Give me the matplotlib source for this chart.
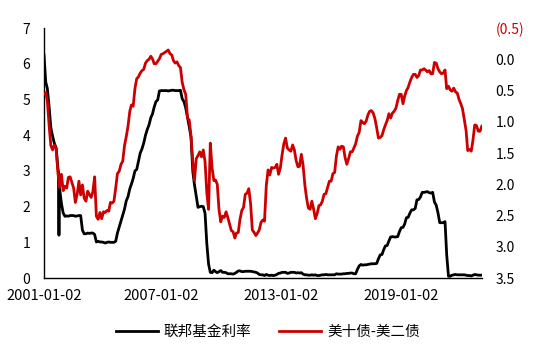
import matplotlib
matplotlib.use("Agg")
import matplotlib.pyplot as plt
import pandas as pd

plt.rcParams['font.family'] = ['Noto Sans CJK SC', 'DejaVu Sans']
plt.rcParams['axes.unicode_minus'] = False

# monthly, 2001-01 .. 2021-11
months = pd.date_range("2001-02-01", "2021-11-01", freq="MS")
months = months.insert(0, pd.Timestamp("2001-01-02"))

# 联邦基金利率 (%)
fed_funds = [
    6.25, 5.49, 5.31, 4.80, 4.21, 3.97, 3.77, 3.65, 3.07, 2.49, 2.09, 1.82,
    1.73, 1.74, 1.73, 1.75, 1.75, 1.75, 1.73, 1.74, 1.75, 1.75, 1.34, 1.24,
    1.24, 1.26, 1.25, 1.26, 1.26, 1.22, 1.01, 1.03, 1.01, 1.01, 1.00, 0.98,
    1.00, 1.01, 1.00, 1.00, 1.00, 1.03, 1.26, 1.43, 1.61, 1.76, 1.93, 2.16,
    2.28, 2.50, 2.63, 2.79, 3.00, 3.04, 3.26, 3.50, 3.62, 3.78, 4.00, 4.16,
    4.29, 4.49, 4.59, 4.79, 4.94, 4.99, 5.24, 5.25, 5.25, 5.25, 5.25, 5.24,
    5.25, 5.26, 5.26, 5.25, 5.25, 5.25, 5.26, 5.02, 4.94, 4.76, 4.49, 4.24,
    3.94, 2.98, 2.61, 2.28, 1.98, 2.00, 2.01, 2.00, 1.81, 0.97, 0.39, 0.16,
    0.15, 0.22, 0.18, 0.15, 0.18, 0.21, 0.16, 0.16, 0.15, 0.12, 0.12, 0.12,
    0.11, 0.13, 0.16, 0.20, 0.20, 0.18, 0.18, 0.19, 0.19, 0.19, 0.19, 0.18,
    0.17, 0.16, 0.14, 0.10, 0.09, 0.09, 0.07, 0.10, 0.08, 0.07, 0.08, 0.07,
    0.08, 0.10, 0.13, 0.14, 0.16, 0.16, 0.16, 0.13, 0.14, 0.16, 0.16, 0.16,
    0.14, 0.15, 0.14, 0.15, 0.11, 0.09, 0.09, 0.08, 0.08, 0.09, 0.08, 0.09,
    0.07, 0.07, 0.08, 0.09, 0.09, 0.10, 0.09, 0.09, 0.09, 0.09, 0.09, 0.12,
    0.11, 0.11, 0.11, 0.12, 0.12, 0.13, 0.13, 0.14, 0.14, 0.12, 0.12, 0.24,
    0.34, 0.38, 0.36, 0.37, 0.37, 0.38, 0.39, 0.40, 0.40, 0.40, 0.41, 0.54,
    0.65, 0.66, 0.79, 0.90, 0.91, 1.04, 1.15, 1.16, 1.15, 1.15, 1.16, 1.30,
    1.41, 1.42, 1.51, 1.69, 1.70, 1.82, 1.91, 1.91, 1.95, 2.19, 2.20, 2.27,
    2.40, 2.40, 2.41, 2.42, 2.39, 2.38, 2.40, 2.13, 2.04, 1.83, 1.55, 1.55,
    1.55, 1.58, 0.65, 0.05, 0.05, 0.08, 0.09, 0.10, 0.09, 0.09, 0.09, 0.09,
    0.09, 0.08, 0.07, 0.07, 0.06, 0.08, 0.10, 0.09, 0.08, 0.08, 0.08,
]

# a few daily readings that stick out of the monthly line
ff_spike_dates = pd.to_datetime(["2001-09-18", "2001-09-19", "2001-09-20"])
ff_spike_values = [2.9, 1.2, 2.8]

# 美十债-美二债 (%)
spread = [
    0.55, 0.53, 0.66, 1.06, 1.38, 1.45, 1.37, 1.43, 1.82, 2.05, 1.84, 2.10,
    2.03, 2.06, 1.89, 1.88, 1.97, 2.06, 2.29, 2.16, 1.95, 2.17, 2.01, 2.22,
    2.27, 2.11, 2.16, 2.21, 2.12, 1.88, 2.51, 2.56, 2.45, 2.55, 2.44, 2.45,
    2.42, 2.43, 2.29, 2.30, 2.27, 2.06, 1.83, 1.79, 1.68, 1.63, 1.38, 1.24,
    1.07, 0.83, 0.73, 0.75, 0.47, 0.31, 0.28, 0.22, 0.18, 0.16, 0.06, 0.02,
    0.00, -0.05, -0.01, 0.07, 0.07, 0.03, -0.01, -0.08, -0.09, -0.11, -0.13, -0.15,
    -0.09, -0.07, 0.02, 0.06, 0.04, 0.10, 0.13, 0.37, 0.49, 0.56, 0.94, 0.97,
    1.23, 1.65, 1.94, 1.59, 1.54, 1.48, 1.56, 1.45, 1.64, 2.13, 2.40, 1.34,
    1.74, 1.94, 1.93, 2.00, 2.40, 2.60, 2.51, 2.53, 2.44, 2.53, 2.64, 2.74,
    2.76, 2.86, 2.78, 2.77, 2.56, 2.42, 2.37, 2.16, 2.14, 2.07, 2.31, 2.73,
    2.77, 2.82, 2.78, 2.73, 2.61, 2.57, 2.59, 2.02, 1.77, 1.85, 1.73, 1.74,
    1.73, 1.68, 1.84, 1.74, 1.53, 1.35, 1.26, 1.42, 1.45, 1.47, 1.37, 1.45,
    1.62, 1.72, 1.71, 1.52, 1.69, 2.01, 2.22, 2.38, 2.40, 2.27, 2.40, 2.55,
    2.47, 2.34, 2.33, 2.27, 2.16, 2.15, 2.05, 1.95, 1.95, 1.83, 1.81, 1.55,
    1.40, 1.44, 1.39, 1.40, 1.57, 1.68, 1.59, 1.48, 1.48, 1.42, 1.35, 1.23,
    1.17, 0.98, 1.01, 1.03, 0.99, 0.89, 0.83, 0.82, 0.86, 0.95, 1.10, 1.26,
    1.25, 1.22, 1.13, 1.05, 0.98, 0.87, 0.94, 0.86, 0.83, 0.78, 0.66, 0.56,
    0.56, 0.71, 0.59, 0.50, 0.45, 0.36, 0.29, 0.24, 0.24, 0.29, 0.26, 0.17,
    0.17, 0.15, 0.17, 0.20, 0.18, 0.23, 0.23, 0.05, 0.06, 0.15, 0.20, 0.23,
    0.22, 0.17, 0.47, 0.43, 0.49, 0.51, 0.46, 0.52, 0.54, 0.64, 0.71, 0.79,
    0.97, 1.14, 1.46, 1.44, 1.47, 1.29, 1.05, 1.06, 1.15, 1.15, 1.07,
]

# source used a category axis, labels sit a bit left of their real dates
tick_dates = pd.to_datetime(["2001-01-02", "2006-08-04", "2012-04-13", "2017-12-29"])
tick_labels = ["2001-01-02", "2007-01-02", "2013-01-02", "2019-01-02"]
right_ticks = [-0.5, 0.0, 0.5, 1.0, 1.5, 2.0, 2.5, 3.0, 3.5]

ff = pd.concat([pd.Series(fed_funds, index=months),
                pd.Series(ff_spike_values, index=ff_spike_dates)]).sort_index()
sp = pd.Series(spread, index=months)

red = "#CC0000"
fig = plt.figure(figsize=(5.5, 3.56), dpi=100)
ax = fig.add_axes([0.08, 0.219, 0.796, 0.702])
ax2 = ax.twinx()

l1, = ax.plot(ff.index, ff.values, color="black", lw=2.0, label="联邦基金利率")
l2, = ax2.plot(sp.index, sp.values, color=red, lw=2.0, label="美十债-美二债")

ax.set_xlim(months[0], months[-1])
ax.set_ylim(0, 7)
ax.set_yticks(range(8))
ax2.set_ylim(3.5, -0.5)
ax2.set_yticks(right_ticks)
ax2.set_yticklabels([f"({abs(t):.1f})" if t < 0 else f"{t:.1f}" for t in right_ticks])
for t, lab in zip(right_ticks, ax2.get_yticklabels()):
    if t < 0:
        lab.set_color(red)

ax.set_xticks(tick_dates)
ax.set_xticklabels(tick_labels)

for a in (ax, ax2):
    for s in ("top", "right"):
        a.spines[s].set_visible(False)
    a.spines["left"].set_visible(a is ax)
    a.spines["bottom"].set_visible(a is ax)
    a.tick_params(length=0, labelsize=10)
ax.tick_params(axis="y", pad=10)
ax.tick_params(axis="x", pad=8, labelsize=10.5)
ax2.tick_params(axis="y", pad=10)
ax.spines["left"].set_linewidth(1.0)
ax.spines["bottom"].set_linewidth(1.0)

fig.legend(handles=[l1, l2], loc="center", bbox_to_anchor=(0.487, 0.068), ncol=2,
           frameon=False, fontsize=10.5, handlelength=2.9, handletextpad=0.4,
           columnspacing=1.9)

fig.savefig("out.png", dpi=100)
